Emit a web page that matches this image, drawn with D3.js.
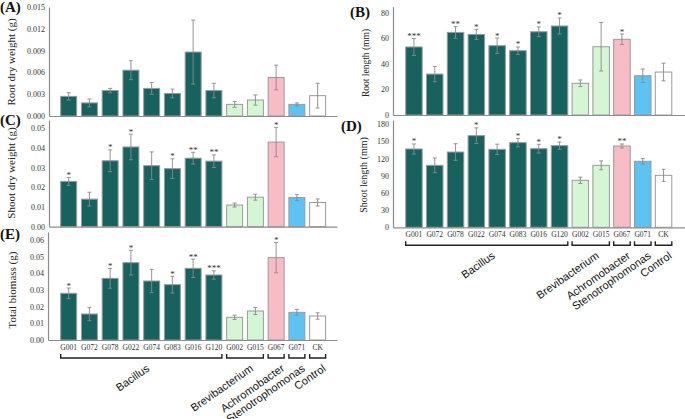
<!DOCTYPE html>
<html><head><meta charset="utf-8">
<script src="https://cdn.jsdelivr.net/npm/d3@7"></script>
<style>
html,body{margin:0;padding:0;background:#fff;}
svg{display:block;}
</style></head>
<body>
<svg id="chart" width="685" height="419"></svg>
<script>
// ---------------- data ----------------
const strains = ["G001","G072","G078","G022","G074","G083","G016","G120","G002","G015","G067","G071","CK"];
const strainGroup = [0,0,0,0,0,0,0,0,1,1,2,3,4];
const groupNames = ["Bacillus","Brevibacterium","Achromobacter","Stenotrophomonas","Control"];
const groupColors = ["#17625e","#d4f6d4","#f8bcc7","#5cc3f3","#ffffff"];

const rootDryMean = [0.0027,0.0018,0.0035,0.0063,0.0038,0.0031,0.0088,0.0035,0.0016,0.0022,0.0053,0.0016,0.0028];
const rootDrySd   = [0.0005,0.00055,0.0003,0.0013,0.0008,0.0006,0.0044,0.0010,0.0004,0.0007,0.0017,0.0002,0.0017];
const rootDrySig  = ["","","","","","","","","","","","",""];
const rootDryTicks = [0,0.003,0.006,0.009,0.012,0.015];

const rootLenMean = [53.2,32.0,64.6,63.0,54.2,50.3,65.1,69.6,24.8,53.4,59.2,30.7,33.6];
const rootLenSd   = [6.6,6.0,4.5,4.0,6.0,2.9,3.8,6.3,2.6,19.0,4.1,5.3,6.9];
const rootLenSig  = ["***","","**","*","*","*","*","*","","","*","",""];
const rootLenTicks = [0,20,40,60,80];

const shootDryMean = [0.0230,0.0140,0.0335,0.0405,0.0310,0.0295,0.0348,0.0333,0.0110,0.0150,0.0430,0.0148,0.0123];
const shootDrySd   = [0.0020,0.0035,0.0055,0.0065,0.0070,0.0050,0.0030,0.0032,0.0010,0.0015,0.0075,0.0015,0.0018];
const shootDrySig  = ["*","","*","*","","*","**","**","","","*","",""];
const shootDryTicks = [0,0.01,0.02,0.03,0.04,0.05];

const shootLenMean = [136.5,108.0,131.2,159.7,135.9,147.5,137.0,142.3,81.9,108.0,141.7,115.0,90.6];
const shootLenSd   = [8.7,12.8,14.5,13.6,9.0,7.3,7.6,6.4,5.5,7.8,3.5,4.7,10.5];
const shootLenSig  = ["*","","","*","","*","*","*","","","**","",""];
const shootLenTicks = [0,30,60,90,120,150,180];

const biomassMean = [0.0280,0.0156,0.0370,0.0464,0.0354,0.0332,0.0430,0.0390,0.0136,0.0174,0.0494,0.0166,0.0144];
const biomassSd   = [0.0032,0.0040,0.0059,0.0074,0.0070,0.0050,0.0055,0.0025,0.0013,0.0021,0.0091,0.0018,0.0019];
const biomassSig  = ["*","","*","*","","*","**","***","","","*","",""];
const biomassTicks = [0,0.01,0.02,0.03,0.04,0.05,0.06];

// ---------------- layout ----------------
const svg = d3.select("#chart");
const serif = "'Liberation Serif','Times New Roman',serif";
const sans = "'Liberation Sans',Arial,sans-serif";
const axisColor = "#8c8c8c";

const panels = [
  {letter:"(A)", lx:0, ly:12, title:"Root dry weight (g)", tx:15, ty:62, tsize:11,
   mean:rootDryMean, sd:rootDrySd, sig:rootDrySig, ticks:rootDryTicks, fmt:d3.format(".3f"),
   ymax:0.015, yTop:7, y0:116, ax:49, xEnd:337, bx0:58.3, bx1:328.0, pad:0.23, bottom:false},
  {letter:"(C)", lx:0, ly:125, title:"Shoot dry weight (g)", tx:15, ty:173, tsize:11,
   mean:shootDryMean, sd:shootDrySd, sig:shootDrySig, ticks:shootDryTicks, fmt:d3.format(".2f"),
   ymax:0.0542, yTop:120, y0:226.7, ax:49, xEnd:337, bx0:58.3, bx1:328.0, pad:0.23, bottom:false},
  {letter:"(E)", lx:0, ly:239, title:"Total biomass (g)", tx:16, ty:290, tsize:11,
   mean:biomassMean, sd:biomassSd, sig:biomassSig, ticks:biomassTicks, fmt:d3.format(".2f"),
   ymax:0.0648, yTop:232, y0:340, ax:48, xEnd:337, bx0:58.3, bx1:328.0, pad:0.23, bottom:true},
  {letter:"(B)", lx:350, ly:17, title:"Root length (mm)", tx:369, ty:63, tsize:9.5,
   mean:rootLenMean, sd:rootLenSd, sig:rootLenSig, ticks:rootLenTicks, fmt:d3.format("d"),
   ymax:84.7, yTop:6.7, y0:115, ax:393, xEnd:685, bx0:403.55, bx1:673.95, pad:0.207, bottom:false},
  {letter:"(D)", lx:341, ly:131, title:"Shoot length (mm)", tx:367, ty:175, tsize:10,
   mean:shootLenMean, sd:shootLenSd, sig:shootLenSig, ticks:shootLenTicks, fmt:d3.format("d"),
   ymax:187, yTop:120, y0:227.3, ax:393, xEnd:685, bx0:403.55, bx1:673.95, pad:0.207, bottom:true}
];

panels.forEach(p => {
  const g = svg.append("g");
  const x = d3.scaleBand().domain(strains).range([p.bx0, p.bx1]).paddingInner(p.pad).paddingOuter(p.pad/2);
  const y = d3.scaleLinear().domain([0, p.ymax]).range([p.y0, p.yTop]);
  const data = strains.map((s,i)=>({s, i, m:p.mean[i], sd:p.sd[i], sig:p.sig[i], grp:strainGroup[i]}));

  // bars
  g.selectAll("rect.bar").data(data).join("rect")
    .attr("class","bar")
    .attr("x", d=>x(d.s)).attr("width", x.bandwidth())
    .attr("y", d=>y(d.m)).attr("height", d=>y(0)-y(d.m))
    .attr("fill", d=>groupColors[d.grp])
    .attr("stroke", "#9a9a9a").attr("stroke-width", 1);

  // error bars
  const eb = g.selectAll("g.err").data(data).join("g").attr("class","err")
    .attr("stroke","#8a8a8a").attr("stroke-width",0.9);
  eb.append("line").attr("x1",d=>x(d.s)+x.bandwidth()/2).attr("x2",d=>x(d.s)+x.bandwidth()/2)
    .attr("y1",d=>y(d.m+d.sd)).attr("y2",d=>y(d.m-d.sd));
  eb.append("line").attr("x1",d=>x(d.s)+x.bandwidth()/2-2).attr("x2",d=>x(d.s)+x.bandwidth()/2+2)
    .attr("y1",d=>y(d.m+d.sd)).attr("y2",d=>y(d.m+d.sd));
  eb.append("line").attr("x1",d=>x(d.s)+x.bandwidth()/2-2).attr("x2",d=>x(d.s)+x.bandwidth()/2+2)
    .attr("y1",d=>y(d.m-d.sd)).attr("y2",d=>y(d.m-d.sd));

  // significance stars
  g.selectAll("text.sig").data(data.filter(d=>d.sig)).join("text")
    .attr("class","sig")
    .attr("x", d=>x(d.s)+x.bandwidth()/2).attr("y", d=>y(d.m+d.sd)+0.5)
    .attr("text-anchor","middle").attr("font-family",serif).attr("font-size",9)
    .attr("fill","#333").text(d=>d.sig);

  // y axis
  const yAxis = d3.axisLeft(y).tickValues(p.ticks).tickFormat(p.fmt).tickSize(0).tickPadding(4);
  const ya = g.append("g").attr("transform",`translate(${p.ax},0)`).call(yAxis);
  ya.select(".domain").attr("stroke",axisColor).attr("stroke-width",1.2);
  ya.selectAll("text").attr("font-family",serif).attr("font-size",8).attr("fill","#333");

  // x axis line
  const xaxScale = d3.scaleLinear().range([p.ax, p.xEnd]);
  const xa = g.append("g").attr("transform",`translate(0,${p.y0})`)
    .call(d3.axisBottom(xaxScale).tickValues([]).tickSizeOuter(0));
  xa.select(".domain").attr("stroke",axisColor).attr("stroke-width",1.2);

  // title
  g.append("text").attr("transform",`translate(${p.tx},${p.ty}) rotate(-90)`)
    .attr("text-anchor","middle").attr("font-family",serif).attr("font-size",p.tsize)
    .attr("fill","#222").text(p.title);

  // panel letter
  g.append("text").attr("x",p.lx).attr("y",p.ly).attr("font-family",serif)
    .attr("font-weight","bold").attr("font-size",15).attr("fill","#111").text(p.letter);

  if (p.bottom) {
    const labY = p.y0 + 9.5;
    g.selectAll("text.xl").data(data).join("text").attr("class","xl")
      .attr("x", d=>x(d.s)+x.bandwidth()/2).attr("y", labY)
      .attr("text-anchor","middle").attr("font-family",serif).attr("font-size",7.5)
      .attr("fill","#333").text(d=>d.s);

    const by = p.y0 + 18;
    const grpData = groupNames.map((name,gi)=>{
      const members = strains.filter((s,i)=>strainGroup[i]===gi);
      const x1 = x(members[0]), x2 = x(members[members.length-1]) + x.bandwidth();
      return {name, x1, x2, c:(x1+x2)/2};
    });
    g.selectAll("path.br").data(grpData).join("path").attr("class","br")
      .attr("d", d=>`M${d.x1},${by-4}V${by}H${d.x2}V${by-4}`)
      .attr("fill","none").attr("stroke","#222").attr("stroke-width",1.4);
    g.selectAll("text.gl").data(grpData).join("text").attr("class","gl")
      .attr("transform", d=>`translate(${d.c+9},${by+12}) rotate(-35)`)
      .attr("text-anchor","end").attr("font-family",sans).attr("font-size",11)
      .attr("fill","#111").text(d=>d.name);
  }
});
</script>
</body></html>
